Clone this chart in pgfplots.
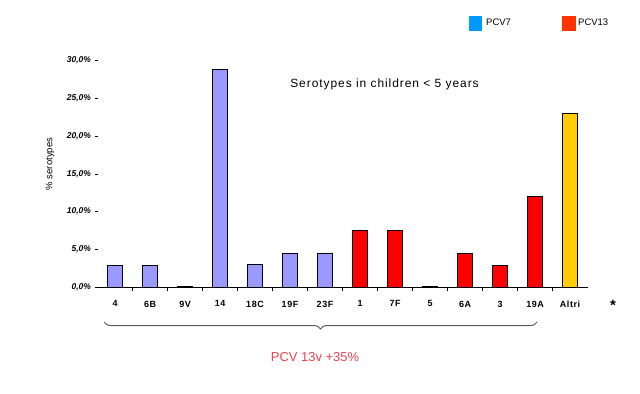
\documentclass[border=0pt]{standalone}
\usepackage{pgfplots}
\pgfplotsset{compat=1.18}
\usepackage{fontspec}
\setmainfont{Liberation Sans}
\newfontfamily\widefont[LetterSpace=8]{Liberation Sans}
\newfontfamily\tickfont[LetterSpace=6]{Liberation Sans}
\usetikzlibrary{decorations.pathreplacing}
\definecolor{pcvblue}{RGB}{153,153,255}
\definecolor{pcvred}{RGB}{255,0,0}
\definecolor{altri}{RGB}{255,204,0}
\definecolor{legblue}{RGB}{0,153,255}
\definecolor{legred}{RGB}{255,51,0}
\definecolor{notered}{RGB}{238,64,80}
\begin{document}
\begin{tikzpicture}[x=1bp,y=1bp]
\useasboundingbox (0,0) rectangle (640,393);
\begin{axis}[
  at={(97.5bp,105.7bp)}, anchor=south west,
  scale only axis, width=490bp, height=227bp,
  xmin=-0.5, xmax=13.5, ymin=0, ymax=30,
  axis x line=bottom, axis y line=left,
  axis line style={-, black, line width=0.8bp},
  y axis line style={draw=none},
  bar width=14.5bp,
  tick align=outside,
  major tick length=3bp, minor tick length=4bp,
  xtick={0,...,13},
  xticklabels={4,6B,9V,14,18C,19F,23F,1,7F,5,6A,3,19A,Altri},
  major x tick style={draw=none},
  minor xtick={0.5,1.5,...,12.5},
  minor x tick style={black, line width=0.6bp},
  xticklabel style={font=\fontsize{9}{10}\selectfont\tickfont\bfseries, yshift=-7bp},
  ytick={0,5,...,30},
  yticklabels={{0,0\%},{5,0\%},{10,0\%},{15,0\%},{20,0\%},{25,0\%},{30,0\%}},
  yticklabel style={font=\fontsize{8.5}{10}\selectfont\bfseries\itshape},
  y tick style={black, line width=0.6bp},
  clip=false,
]
\addplot[ybar, bar shift=0pt, fill=pcvblue, draw=black, line width=0.6bp]
  coordinates {(0,2.9) (1,2.9) (2,0.1) (3,28.8) (4,3.0) (5,4.5) (6,4.5)};
\addplot[ybar, bar shift=0pt, fill=pcvred, draw=black, line width=0.6bp]
  coordinates {(7,7.5) (8,7.5) (9,0.1) (10,4.5) (11,2.9) (12,12.0)};
\addplot[ybar, bar shift=0pt, fill=altri, draw=black, line width=0.6bp]
  coordinates {(13,23.0)};
\end{axis}
% y label
\node[rotate=90, font=\fontsize{9.5}{10}\selectfont] at (50,229) {\% serotypes};
% title
\node[anchor=base, font=\fontsize{12}{13}\selectfont\widefont] at (384.5,305.3) {Serotypes in children < 5 years};
% legend
\fill[legblue] (469,362) rectangle (482,377);
\node[anchor=base west, inner sep=0pt, font=\fontsize{9.5}{11}\selectfont] at (486,367.3) {PCV7};
\fill[legred] (562,362) rectangle (576,377);
\node[anchor=base west, inner sep=0pt, font=\fontsize{9.5}{11}\selectfont] at (578,367.3) {PCV13};
% asterisk
\node[font=\fontsize{15}{16}\selectfont\bfseries] at (613,88) {*};
% brace
\draw[decorate, decoration={brace, amplitude=7bp, mirror, aspect=0.5}, draw={rgb,255:red,90;green,90;blue,90}, line width=1bp] (104,71) -- (537,71);
\node[anchor=base, text=notered, font=\fontsize{13}{15}\selectfont] at (315,31.3) {PCV 13v +35\%};
\end{tikzpicture}
\end{document}
